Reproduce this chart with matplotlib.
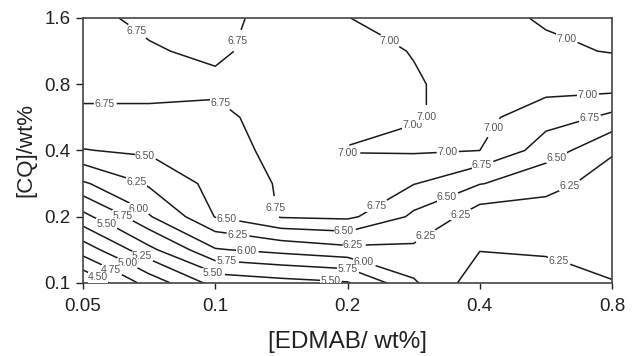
import numpy as np
import matplotlib
matplotlib.use("Agg")
import matplotlib.pyplot as plt

plt.rcParams['font.family'] = ['Liberation Sans', 'DejaVu Sans']

# grid of EDMAB and CQ contents (wt%), half-doubling steps
edmab = [0.05, 0.0707, 0.1, 0.1414, 0.2, 0.2828, 0.4, 0.5657, 0.8]
cq = [0.1, 0.1414, 0.2, 0.2828, 0.4, 0.5657, 0.8, 1.131, 1.6]

# values, one row per CQ level (bottom to top)
z_rows = [
    [4.30, 4.86, 5.35, 5.42, 5.48, 5.97, 6.42, 6.35, 6.26],
    [4.87, 5.44, 5.98, 6.08, 6.18, 6.21, 6.24, 6.22, 6.15],
    [5.43, 5.98, 6.51, 6.77, 6.80, 6.45, 6.12, 6.12, 6.10],
    [5.97, 6.29, 6.59, 6.78, 6.89, 6.76, 6.51, 6.35, 6.10],
    [6.49, 6.55, 6.66, 6.82, 7.01, 7.03, 7.00, 6.61, 6.29],
    [6.72, 6.72, 6.70, 6.85, 6.93, 6.99, 7.05, 6.87, 6.69],
    [6.80, 6.80, 6.80, 6.90, 6.95, 6.98, 7.10, 7.10, 7.135],
    [6.80, 6.77, 6.70, 6.90, 6.93, 7.01, 7.08, 7.03, 6.99],
    [6.80, 6.70, 6.68, 6.85, 6.998, 7.05, 7.05, 6.98, 6.95],
]
levels = [4.50, 4.75, 5.00, 5.25, 5.50, 5.75, 6.00, 6.25, 6.50, 6.75, 7.00]

x_ticks = [0.05, 0.1, 0.2, 0.4, 0.8]
x_ticklabels = ['0.05', '0.1', '0.2', '0.4', '0.8']
y_ticks = [0.1, 0.2, 0.4, 0.8, 1.6]
y_ticklabels = ['0.1', '0.2', '0.4', '0.8', '1.6']

# where the contour labels sit (data coordinates)
label_spots = [
    (0.0667, 1.41), (0.114, 1.245), (0.056, 0.624), (0.101, 0.624),
    (0.25, 1.27), (0.626, 1.24), (0.705, 0.679), (0.447, 0.48),
    (0.282, 0.512), (0.320, 0.51), (0.337, 0.394), (0.197, 0.344),
    (0.136, 0.219), (0.237, 0.21), (0.406, 0.336), (0.712, 0.562),
    (0.069, 0.362), (0.106, 0.187), (0.196, 0.162), (0.334, 0.256), (0.599, 0.37),
    (0.066, 0.285), (0.112, 0.16), (0.206, 0.144), (0.355, 0.219), (0.650, 0.259),
    (0.320, 0.134), (0.600, 0.121),
    (0.067, 0.219), (0.118, 0.138), (0.219, 0.128),
    (0.061, 0.197), (0.106, 0.121), (0.2, 0.115),
    (0.0565, 0.186), (0.098, 0.1076), (0.183, 0.102),
    (0.068, 0.131), (0.063, 0.123), (0.058, 0.115), (0.054, 0.105),
]

fig = plt.figure(figsize=(6.38, 3.56), dpi=100)
ax = fig.add_axes([0.1301, 0.2051, 0.8292, 0.7444])
ax.set_xscale('log')
ax.set_yscale('log')
ax.set_xlim(0.05, 0.8)
ax.set_ylim(0.1, 1.6)

X, Y = np.meshgrid(edmab, cq)
Z = np.array(z_rows)
cs = ax.contour(X, Y, Z, levels=levels, colors='#1a1a1a', linewidths=1.1)
labels = ax.clabel(cs, fmt='%.2f', fontsize=7.5, colors='#555555', inline=True,
                   inline_spacing=1, manual=label_spots)
# labels in the original are all upright and break the line under them
for t in labels:
    t.set_rotation(0)
    t.set_bbox(dict(facecolor='white', edgecolor='none', pad=0.2))

ax.set_xticks(x_ticks)
ax.set_xticklabels(x_ticklabels)
ax.set_yticks(y_ticks)
ax.set_yticklabels(y_ticklabels)
ax.minorticks_off()
ax.tick_params(axis='both', labelsize=13.5, colors='#222222', direction='out')
ax.tick_params(axis='x', length=4, width=1, pad=7)
ax.tick_params(axis='y', length=5, width=1, pad=4)
for s in ax.spines.values():
    s.set_color('#444444')
    s.set_linewidth(1.2)

ax.set_xlabel('[EDMAB/ wt%]', fontsize=17.5, labelpad=11, color='#222222')
ax.set_ylabel('[CQ]/wt%', fontsize=16, labelpad=6, color='#222222')

fig.savefig('out.png', dpi=100)
